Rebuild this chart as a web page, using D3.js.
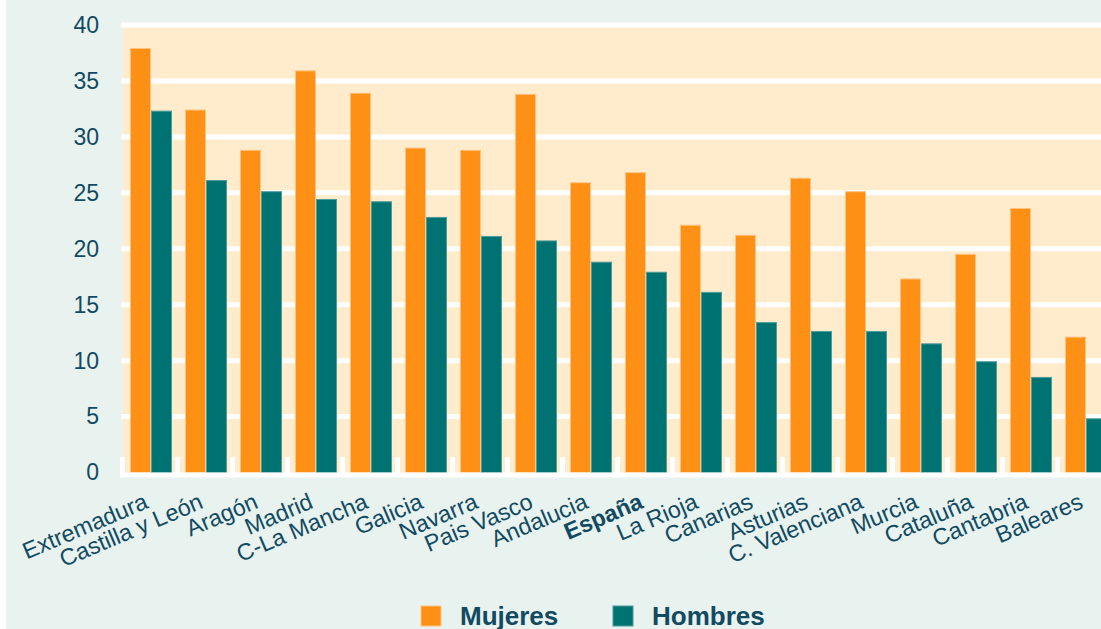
<!DOCTYPE html>
<html>
<head>
<meta charset="utf-8">
<script src="https://cdn.jsdelivr.net/npm/d3@7"></script>
<style>
  html, body { margin: 0; padding: 0; background: #fff; }
  svg { display: block; }
  text { font-family: "Liberation Sans", Arial, sans-serif; fill: #124a62; }
</style>
</head>
<body>
<div id="chart"></div>
<script>
// values (%)
var regions = ["Extremadura", "Castilla y León", "Aragón", "Madrid", "C-La Mancha", "Galicia",
  "Navarra", "Pais Vasco", "Andalucia", "España", "La Rioja", "Canarias", "Asturias",
  "C. Valenciana", "Murcia", "Cataluña", "Cantabria", "Baleares"];
var mujeres = [37.9, 32.4, 28.8, 35.9, 33.9, 29.0, 28.8, 33.8, 25.9, 26.8, 22.1, 21.2, 26.3, 25.1, 17.3, 19.5, 23.6, 12.1];
var hombres = [32.3, 26.1, 25.1, 24.4, 24.2, 22.8, 21.1, 20.7, 18.8, 17.9, 16.1, 13.4, 12.6, 12.6, 11.5, 9.9, 8.5, 4.8];
var series = ["Mujeres", "Hombres"];
var yTicks = [0, 5, 10, 15, 20, 25, 30, 35, 40];

var colors = { Mujeres: "#FF9016", Hombres: "#007272" };
var edges = { Mujeres: "#FFC27F", Hombres: "#4E9C9C" };

var W = 1101, H = 629;
var svg = d3.select("#chart").append("svg").attr("width", W).attr("height", H);

// panel background
svg.append("rect").attr("x", 6).attr("y", 0).attr("width", W - 6).attr("height", H).attr("fill", "#E8F2EF");

var x = d3.scaleBand().domain(regions).range([122, 1112]).padding(0);
var xs = d3.scaleBand().domain(series).range([8, 50]);
var y = d3.scaleLinear().domain([0, 40]).range([472.5, 25]);

// plot area
svg.append("rect").attr("x", 123).attr("y", y(40)).attr("width", 1112 - 123).attr("height", y(0) - y(40))
  .attr("fill", "#FFECCD");

// white gridlines
svg.append("g").selectAll("line").data(yTicks.filter(function (d) { return d > 0; })).enter().append("line")
  .attr("x1", 121).attr("x2", W)
  .attr("y1", function (d) { return y(d); }).attr("y2", function (d) { return y(d); })
  .attr("stroke", "#fff").attr("stroke-width", 5);

// bars
var rows = regions.map(function (r, i) { return { region: r, Mujeres: mujeres[i], Hombres: hombres[i] }; });
var groups = svg.append("g").selectAll("g").data(rows).enter().append("g")
  .attr("transform", function (d) { return "translate(" + x(d.region) + ",0)"; });
groups.selectAll("rect")
  .data(function (d) { return series.map(function (s) { return { key: s, value: d[s] }; }); })
  .enter().append("rect")
  .attr("x", function (d) { return xs(d.key) + 0.5; })
  .attr("width", xs.bandwidth() - 1)
  .attr("y", function (d) { return y(d.value); })
  .attr("height", function (d) { return y(0) - y(d.value); })
  .attr("fill", function (d) { return colors[d.key]; })
  .attr("stroke", function (d) { return edges[d.key]; })
  .attr("stroke-width", 1);

// baseline with tick marks between categories
svg.append("line").attr("x1", 120).attr("x2", W).attr("y1", 475).attr("y2", 475)
  .attr("stroke", "#fff").attr("stroke-width", 5);
svg.append("g").selectAll("line").data(regions).enter().append("line")
  .attr("x1", function (d) { return x(d) + 0.5; }).attr("x2", function (d) { return x(d) + 0.5; })
  .attr("y1", 457).attr("y2", 475)
  .attr("stroke", "#fff").attr("stroke-width", 5);

// y axis labels
var yAxis = d3.axisLeft(y).tickValues(yTicks).tickSize(0).tickPadding(0);
var gy = svg.append("g").attr("transform", "translate(99,0)").call(yAxis);
gy.select(".domain").remove();
gy.selectAll("text").style("font-size", "23px").attr("fill", "#124a62")
  .style("font-family", "'Liberation Sans', Arial, sans-serif");

// x axis labels, rotated
var xAxis = d3.axisBottom(x).tickSize(0).tickPadding(0);
var gx = svg.append("g").call(xAxis);
gx.select(".domain").remove();
gx.selectAll(".tick").attr("transform", function (d) { return "translate(" + (x(d) + x.bandwidth() / 2) + ",507.5)"; });
gx.selectAll("text")
  .attr("y", 0).attr("dy", 0)
  .attr("text-anchor", "end")
  .attr("transform", "rotate(-23)")
  .attr("fill", "#124a62")
  .style("font-size", "23.3px")
  .style("font-family", "'Liberation Sans', Arial, sans-serif")
  .style("font-weight", function (d) { return d === "España" ? "bold" : "normal"; });

// legend
var legendX = [421, 613];
var lg = svg.append("g").selectAll("g").data(series).enter().append("g")
  .attr("transform", function (d, i) { return "translate(" + legendX[i] + ",606)"; });
lg.append("rect").attr("width", 20).attr("height", 20)
  .attr("fill", function (d) { return colors[d]; })
  .attr("stroke", function (d) { return edges[d]; }).attr("stroke-width", 1);
lg.append("text").attr("x", 39).attr("y", 19)
  .style("font-size", "26px").style("font-weight", "bold")
  .text(function (d) { return d; });
</script>
</body>
</html>
